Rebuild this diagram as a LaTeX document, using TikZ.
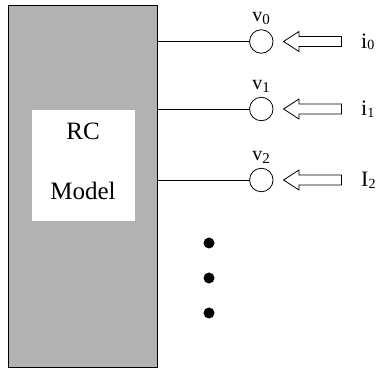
\documentclass[tikz,border=0pt]{standalone}
\usepackage{fontspec}
\setmainfont{Liberation Serif}
\newcommand{\lowsub}[3]{\raisebox{-#2pt}{\fontsize{#1}{#1}\selectfont #3}}
\begin{document}
\begin{tikzpicture}[x=1pt,y=-1pt,
  blockfill/.style={draw=black,line width=0.9pt,fill=black!30},
  port/.style={circle,draw=black,line width=0.8pt,minimum size=23.5pt,inner sep=0pt},
  wire/.style={draw=black,line width=0.8pt},
  hollow/.style={draw=black,line width=0.8pt,fill=white},
  lbl/.style={font=\fontsize{20}{20}\selectfont,inner sep=0pt},
  inlbl/.style={font=\fontsize{22}{22}\selectfont,inner sep=0pt,anchor=base west},
  dotn/.style={circle,fill=black,minimum size=11pt,inner sep=0pt}]
\useasboundingbox (0,0) rectangle (380,371);
% RC model block
\node[blockfill,rectangle,minimum width=149pt,minimum height=362pt,inner sep=0pt,anchor=north west] (model) at (8,5) {};
\node[fill=white,rectangle,minimum width=103pt,minimum height=111pt,inner sep=0pt] (inner) at (83,166) {};
\node[font=\fontsize{25}{25}\selectfont,anchor=base,inner sep=0pt] (rc) at (83,140) {RC};
\node[font=\fontsize{25}{25}\selectfont,anchor=base,inner sep=0pt] (mdl) at (83,200) {Model};
% ports
\foreach \k/\y/\il in {0/41.5/i,1/109/i,2/180/I}{
  \coordinate (e\k) at (157,\y);
  \node[port] (c\k) at (261.3,\y) {};
  \draw[wire] (e\k) -- (c\k.west);
  \node[lbl,anchor=base] (v\k) at (261,\y-19.5) {v\lowsub{15}{3}{\k}};
  \path[hollow] (283.5,\y) -- (299,\y-10) -- (299,\y-5) -- (341.5,\y-5) -- (341.5,\y+5) -- (299,\y+5) -- (299,\y+10) -- cycle;
  \node[inlbl] (i\k) at (361,\y+7) {\il\lowsub{14}{1.5}{\k}};
}
% dots
\node[dotn] (d1) at (209,243) {};
\node[dotn] (d2) at (209,278) {};
\node[dotn] (d3) at (209,313) {};
\end{tikzpicture}
\end{document}
